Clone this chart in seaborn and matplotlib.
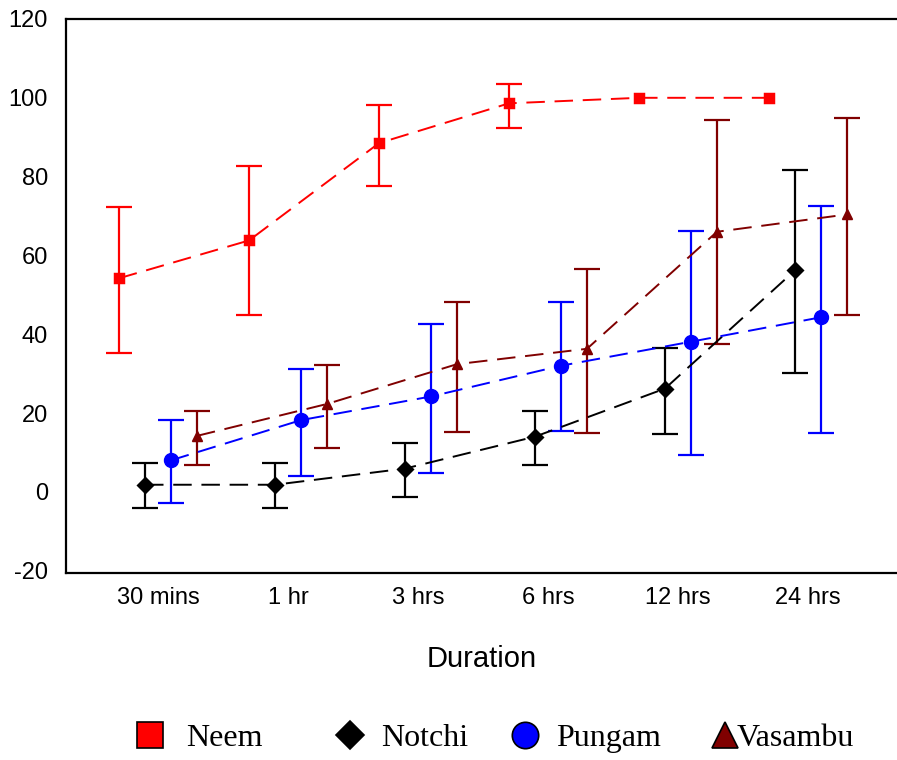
import numpy as np
import pandas as pd
import matplotlib
matplotlib.use("Agg")
import matplotlib.pyplot as plt
import seaborn as sns
from matplotlib.lines import Line2D

durations = ["30 mins", "1 hr", "3 hrs", "6 hrs", "12 hrs", "24 hrs"]
series = ["Neem", "Notchi", "Pungam", "Vasambu"]

neem_mean = [54.2, 63.8, 88.5, 98.6, 100, 100]
neem_low = [35.2, 44.8, 77.7, 92.4, np.nan, np.nan]
neem_high = [72.4, 82.6, 98.2, 103.6, np.nan, np.nan]

notchi_mean = [1.8, 1.8, 5.9, 14.0, 26.2, 56.2]
notchi_low = [-4.1, -4.1, -1.3, 6.9, 14.6, 30.2]
notchi_high = [7.3, 7.3, 12.3, 20.4, 36.6, 81.8]

pungam_mean = [8.0, 18.2, 24.2, 32.0, 38.1, 44.3]
pungam_low = [-2.8, 3.9, 4.9, 15.5, 9.4, 15.0]
pungam_high = [18.2, 31.3, 42.7, 48.3, 66.3, 72.6]

vasambu_mean = [14.2, 22.3, 32.4, 36.3, 66.0, 70.4]
vasambu_low = [6.9, 11.2, 15.2, 15.0, 37.4, 44.8]
vasambu_high = [20.4, 32.1, 48.1, 56.6, 94.4, 94.9]

means = [neem_mean, notchi_mean, pungam_mean, vasambu_mean]
lows = [neem_low, notchi_low, pungam_low, vasambu_low]
highs = [neem_high, notchi_high, pungam_high, vasambu_high]

colors = ["#FF0000", "#000000", "#0000FF", "#800000"]
markers = ["s", "D", "o", "^"]
msizes = [7, 8, 10, 7.5]

rows = []
for s, m in zip(series, means):
    for d, v in zip(durations, m):
        rows.append({"Duration": d, "Value": v, "Series": s})
df = pd.DataFrame(rows)

sns.set_style("white")
plt.rcParams["font.family"] = ["Liberation Sans", "DejaVu Sans"]
plt.rcParams["text.color"] = "black"
plt.rcParams["axes.labelcolor"] = "black"
plt.rcParams["axes.unicode_minus"] = False

fig = plt.figure(figsize=(8.97, 7.6), dpi=100)
ax = fig.add_axes([66 / 897, 1 - 573 / 760, 1 - 66 / 897, (573 - 19) / 760])

sns.pointplot(data=df, x="Duration", y="Value", hue="Series",
              order=durations, hue_order=series, palette=colors,
              markers=markers, linestyles="--", dodge=0.6, errorbar=None,
              legend=False, ax=ax, linewidth=1.4)

lines = [ln for ln in ax.lines]
for k, ln in enumerate(lines[:4]):
    ln.set_markersize(msizes[k])
    ln.set_markeredgecolor(colors[k])
    ln.set_markerfacecolor(colors[k])
    ln.set_linewidth(1.4)
    ln.set_dashes((9.5, 5))
    ln.set_zorder(3)
    xs = np.asarray(ln.get_xdata(), dtype=float)
    mean = np.array(means[k], dtype=float)
    lo = np.array(lows[k], dtype=float)
    hi = np.array(highs[k], dtype=float)
    ok = ~np.isnan(lo)
    ax.errorbar(xs[ok], mean[ok], yerr=[mean[ok] - lo[ok], hi[ok] - mean[ok]],
                fmt="none", ecolor=colors[k], elinewidth=1.6, capsize=9.5,
                capthick=1.6, zorder=2)

ax.set_xlim(-0.708, 5.685)
ax.set_ylim(-20.6, 120)
ax.set_yticks([-20, 0, 20, 40, 60, 80, 100, 120])
ax.set_xlabel("Duration", fontsize=21, labelpad=26)
ax.set_ylabel("")
ax.tick_params(axis="x", length=3, width=2.5, pad=7, labelsize=17, colors="black")
ax.tick_params(axis="y", length=0, pad=13, labelsize=17, colors="black")
ax.grid(False)
for sp in ["left", "bottom", "top"]:
    ax.spines[sp].set_color("black")
    ax.spines[sp].set_linewidth(1.6)
ax.spines["right"].set_visible(False)

# legend: one entry per legend box, placed like the reference
fs = 23
fs_px = fs * 100 / 72
hl = 1.2
centers = [150, 350, 525, 725]
text_starts = [186, 381, 556, 737]
leg_sizes = [19, 14.5, 19, 19]
leg_markers = ["s", "D", "o", "^"]
for k in range(4):
    h = Line2D([], [], linestyle="none", marker=leg_markers[k],
               markersize=leg_sizes[k], markerfacecolor=colors[k],
               markeredgecolor="black", markeredgewidth=1.2)
    left_px = centers[k] - hl * fs_px / 2
    pad = (text_starts[k] - (left_px + hl * fs_px)) / fs_px
    fig.legend([h], [series[k]], loc="center left",
               bbox_to_anchor=(left_px / 897, 1 - 738 / 760),
               frameon=False, borderpad=0, borderaxespad=0,
               handlelength=hl, handletextpad=pad, labelcolor="black",
               prop={"family": ["Liberation Serif", "DejaVu Serif"], "size": fs})

fig.savefig("out.png", dpi=100)
